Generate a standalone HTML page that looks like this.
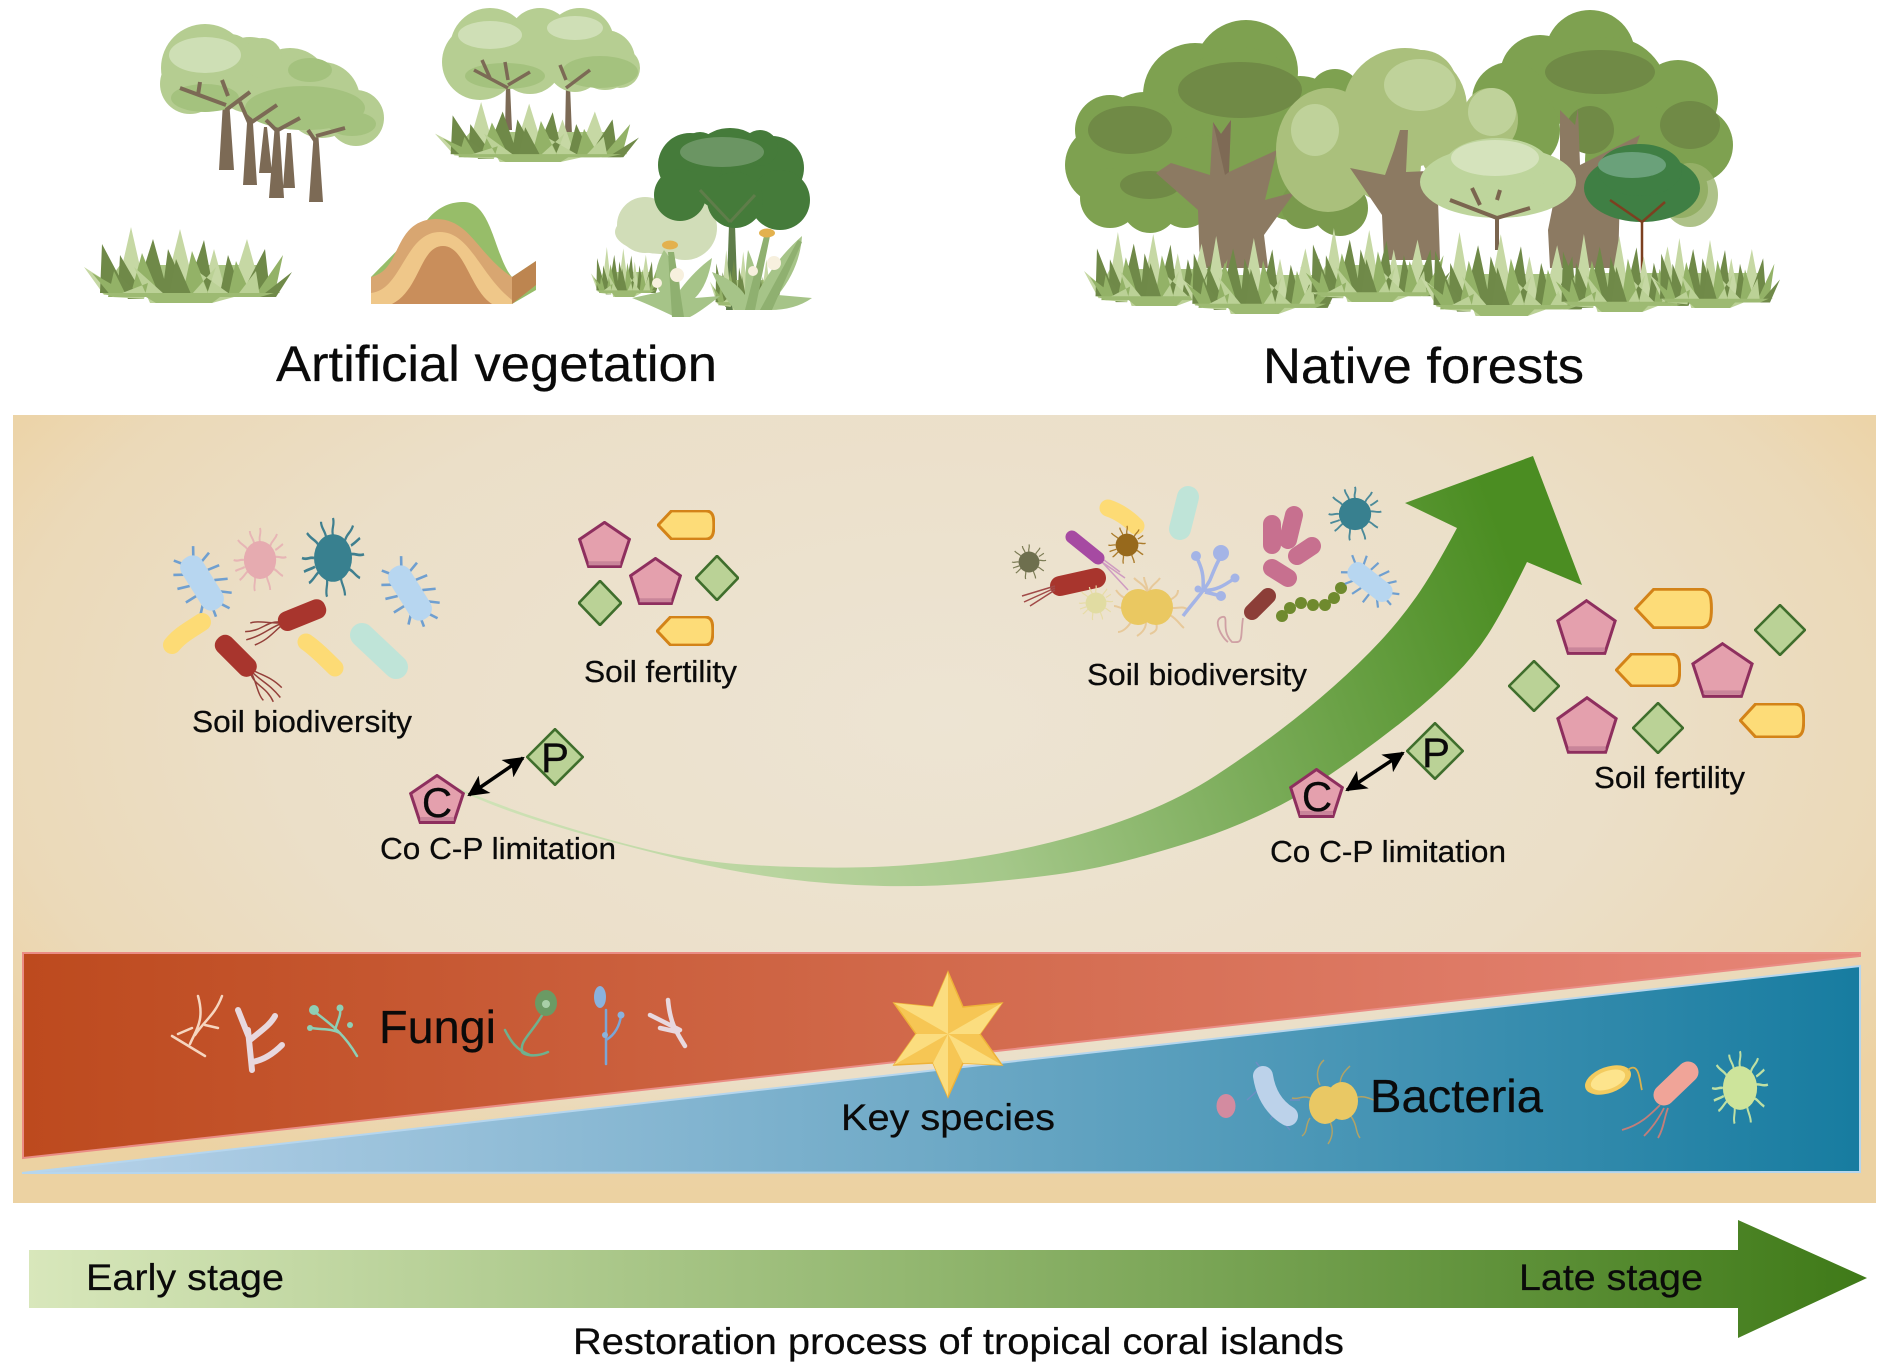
<!DOCTYPE html>
<html><head><meta charset="utf-8"><style>
html,body{margin:0;padding:0;background:#fff}
svg{display:block}
text{font-family:"Liberation Sans",sans-serif;fill:#0a0a0a;stroke:#0a0a0a;stroke-width:.25}
</style></head><body>
<svg xmlns="http://www.w3.org/2000/svg" width="1890" height="1370" viewBox="0 0 1890 1370">
<defs>
<radialGradient id="panel" gradientUnits="userSpaceOnUse" cx="945" cy="720" r="1120" gradientTransform="translate(945 720) scale(1 .55) translate(-945 -720)">
<stop offset="0" stop-color="#ede4d3"/><stop offset=".6" stop-color="#ebdfc8"/><stop offset=".85" stop-color="#ebd9b8"/><stop offset="1" stop-color="#edd2a2"/></radialGradient>
<linearGradient id="panelb" x1="0" y1="0" x2="0" y2="1"><stop offset="0" stop-color="#ecd2a2" stop-opacity="0"/><stop offset=".75" stop-color="#ecd2a2" stop-opacity=".95"/><stop offset="1" stop-color="#ecd2a2"/></linearGradient>
<linearGradient id="redg" gradientUnits="userSpaceOnUse" x1="23" y1="0" x2="1860" y2="0"><stop offset="0" stop-color="#bd4a1e"/><stop offset=".5" stop-color="#d26a4c"/><stop offset="1" stop-color="#e78679"/></linearGradient>
<linearGradient id="blueg" gradientUnits="userSpaceOnUse" x1="23" y1="0" x2="1860" y2="0"><stop offset="0" stop-color="#b9d3ea"/><stop offset=".5" stop-color="#6ea9c6"/><stop offset="1" stop-color="#177ca0"/></linearGradient>
<linearGradient id="stage" gradientUnits="userSpaceOnUse" x1="29" y1="0" x2="1867" y2="0"><stop offset="0" stop-color="#d8e7bb"/><stop offset=".5" stop-color="#90b56d"/><stop offset="1" stop-color="#3f7a18"/></linearGradient>
<linearGradient id="curve" gradientUnits="userSpaceOnUse" x1="500" y1="850" x2="1540" y2="480"><stop offset="0" stop-color="#cfe2b6"/><stop offset=".42" stop-color="#a5c88a"/><stop offset=".68" stop-color="#78aa56"/><stop offset=".95" stop-color="#4b8d22"/></linearGradient>

<symbol id="grass" viewBox="0 0 208 76" preserveAspectRatio="none">
<path fill="#a9c482" d="M16 66L36 38H176L196 66Z"/>
<path fill="#c6d8a4" d="M47 0L32 66L62 66ZM96 2L80 66L112 66ZM163 12L146 66L178 66ZM0 40L20 68L44 68ZM130 22L118 66L142 66Z"/>
<path fill="#6f8948" d="M18 17L16 66L44 66ZM36 28L34 66L58 66ZM69 12L52 66L84 66ZM120 13L102 66L130 66ZM181 22L158 66L186 66ZM144 28L136 66L158 66ZM84 22L78 68L104 68Z"/>
<path fill="#93b267" d="M58 26L46 70L76 70ZM108 24L98 70L126 70ZM199 28L170 70L190 70ZM152 34L144 70L168 70ZM8 46L28 70L50 70ZM30 44L24 70L46 70Z"/>
<path fill="#708a49" d="M208 45L176 70L192 70ZM30 44L44 72L60 72ZM92 32L84 74L110 74Z"/>
<path fill="#bbd196" d="M50 40L66 76L90 76ZM132 40L120 76L100 76ZM172 44L152 70L176 70ZM64 56L60 72L28 70ZM116 46L128 76L150 70Z"/>
<path fill="#9dba72" d="M18 66L190 66L176 70L136 70L128 76L72 76L62 70L30 70Z"/>
</symbol>

<symbol id="rodb" viewBox="-40 -30 80 60" overflow="visible">
<g stroke="#6f9fd0" stroke-width="2.6" fill="none"><path d="M-26 -6L-36 -12M-18 -10L-22 -22M-8 -12L-6 -24M4 -12L10 -24M16 -10L24 -20M26 -4L36 -10M-26 6L-34 12M-16 10L-22 20M-4 12L-8 24M8 12L8 24M18 10L26 18M26 4L36 6"/></g>
<rect x="-30" y="-12" width="60" height="24" rx="11" fill="#b7d6f0"/>
</symbol>
<symbol id="rodr" viewBox="-50 -15 90 30" overflow="visible">
<g stroke="#94403a" stroke-width="1.5" fill="none"><path d="M-10 -2C-22 -8-30 0-46 -6M-10 0C-24 0-30 4-48 2M-10 2C-22 6-28 10-42 10M-10 -1C-20 -4-30 -12-38 -12"/></g>
<rect x="-12" y="-10" width="50" height="20" rx="9" fill="#a8352d"/>
</symbol>
<symbol id="fuzz" viewBox="-34 -34 68 68" overflow="visible">
<g stroke="currentColor" stroke-width="2.2" fill="none"><path d="M0 -18C-2 -24 2 -26 0 -32M12 -14C14 -20 18 -20 20 -26M18 -3C22 -4 26 -1 31 -3M16 9C20 10 22 14 27 16M8 16C8 20 12 24 12 30M-6 17C-5 22-8 26-6 31M-14 11C-18 14-20 18-24 20M-19 0C-24 -1-26 2-31 0M-15 -11C-18 -15-22 -15-26 -20M-7 -17C-8 -22-12 -24-12 -29M18 -10C22 -12 24 -14 27 -16M-18 7C-22 9-25 9-29 11"/></g>
<circle r="19"/>
</symbol>
<symbol id="penta" viewBox="0 0 100 100" preserveAspectRatio="none">
<polygon points="50,3 97,39 80,97 20,97 3,39" fill="#e4a0ad" stroke="#8e2f5e" stroke-width="3" stroke-linejoin="miter" vector-effect="non-scaling-stroke"/>
<path d="M20 90L80 90" stroke="#c9859a" stroke-width="4" vector-effect="non-scaling-stroke"/>
</symbol>
<symbol id="hex" viewBox="0 0 100 100" preserveAspectRatio="none">
<path d="M2 50L25 3H84C97 3 98 25 98 50S97 97 84 97H25Z" fill="#fddc78" stroke="#d38318" stroke-width="3" vector-effect="non-scaling-stroke"/>
</symbol>
<symbol id="dia" viewBox="0 0 100 100" preserveAspectRatio="none">
<polygon points="50,2 98,50 50,98 2,50" fill="#bad296" stroke="#3f6e2c" stroke-width="2.6" vector-effect="non-scaling-stroke"/>
</symbol>
<marker id="ah" viewBox="0 0 10 10" refX="9" refY="5" markerWidth="6" markerHeight="6" orient="auto-start-reverse"><path d="M0 0L10 5L0 10L2.5 5Z" fill="#000"/></marker>
</defs>

<rect width="1890" height="1370" fill="#fff"/>

<!-- tree group 1 -->
<path d="M219 170L224 85L228 85L234 170Z M243 185L248 108L252 108L257 185Z M259 173L264 127L267 127L272 173Z M269 198L275 123L279 123L284 198Z M283 188L287 133L291 133L295 188Z M309 202L314 130L318 130L323 202Z" fill="#7c6a55"/>
<g fill="#b5cd91">
<circle cx="205" cy="68" r="44"/><circle cx="250" cy="75" r="38"/><circle cx="290" cy="88" r="40"/><circle cx="322" cy="100" r="38"/><circle cx="356" cy="118" r="28"/><circle cx="190" cy="84" r="30"/><circle cx="230" cy="58" r="24"/><circle cx="262" cy="58" r="20"/><circle cx="305" cy="82" r="26"/>
</g>
<g fill="#a4c27e"><ellipse cx="305" cy="108" rx="60" ry="22"/><ellipse cx="205" cy="98" rx="34" ry="14"/><ellipse cx="352" cy="124" rx="24" ry="12"/><ellipse cx="310" cy="70" rx="22" ry="12"/></g>
<ellipse cx="205" cy="55" rx="36" ry="18" fill="#cedfb5"/>
<g stroke="#7c6a55" stroke-width="4" fill="none"><path d="M226 105L180 88M226 110L250 92M198 95L200 82M228 96L222 80M250 125L240 102M252 122L277 105M276 130L266 120M278 130L300 118M316 142L308 130M316 136L345 128"/></g>

<!-- tree group 2 -->
<path d="M505 130L506 85L510 85L512 130ZM565 135L566 85L570 85L572 135Z" fill="#7c6a55"/>
<g fill="#b6ce92"><circle cx="490" cy="48" r="40"/><circle cx="540" cy="40" r="32"/><circle cx="580" cy="42" r="34"/><circle cx="605" cy="60" r="30"/><circle cx="480" cy="62" r="38"/><circle cx="530" cy="62" r="32"/><circle cx="575" cy="64" r="28"/><circle cx="620" cy="68" r="20"/></g>
<g fill="#cfdfb6"><ellipse cx="490" cy="35" rx="32" ry="14"/><ellipse cx="575" cy="28" rx="28" ry="12"/></g>
<g fill="#a4c27e"><ellipse cx="505" cy="76" rx="40" ry="13"/><ellipse cx="600" cy="72" rx="38" ry="16"/></g>
<path d="M508 88L474 70M508 85L530 72M490 78L482 60M508 80L505 62M566 88L590 70M566 80L560 65" stroke="#7c6a55" stroke-width="3.5" fill="none"/>
<use href="#grass" x="435" y="102" width="204" height="60"/>
<!-- grass left -->
<use href="#grass" x="84" y="227" width="208" height="76"/>

<!-- hill -->
<path d="M427 220C440 205 452 202 464 202C492 202 495 258 512 277L536 261V290L512 304H371V277Z" fill="#97bd69"/>
<path d="M371 277C403 270 392 220 436 219C470 219 478 255 512 277V304H371Z" fill="#d8a671"/>
<path d="M371 304V293C402 290 405 232 440 232C470 232 480 275 512 300V304Z" fill="#efc789"/>
<path d="M392 304C420 290 420 246 443 246C465 246 470 290 492 304Z" fill="#c98e5b"/>
<path d="M512 277L536 261V285L512 304Z" fill="#bd8550"/>

<!-- dandelion group -->
<g fill="#d1ddb8"><circle cx="645" cy="225" r="28"/><circle cx="685" cy="228" r="32"/><ellipse cx="665" cy="232" rx="50" ry="22"/></g>
<path d="M726 310L729 225H735L738 310Z" fill="#5f7d4a"/>
<g fill="#457b3a"><circle cx="730" cy="170" r="42"/><circle cx="690" cy="165" r="32"/><circle cx="772" cy="168" r="32"/><circle cx="680" cy="195" r="26"/><circle cx="780" cy="200" r="30"/><circle cx="735" cy="200" r="28"/><circle cx="700" cy="150" r="18"/><circle cx="760" cy="148" r="18"/></g>
<ellipse cx="722" cy="152" rx="42" ry="15" fill="#6b9563"/>
<path d="M730 222L700 190M730 222L755 195" stroke="#5f7d4a" stroke-width="3" fill="none"/>
<use href="#grass" x="591" y="247" width="70" height="50"/>
<use href="#grass" x="710" y="250" width="72" height="60"/>
<g fill="#a6c488">
<path d="M675 317Q650 305 632 298L660 292Q650 275 664 250Q680 270 680 290Q695 270 712 258Q708 285 695 298L720 296Q700 312 690 317Z"/>
<path d="M735 310Q722 295 712 272Q735 280 745 295Q745 270 748 250Q758 272 758 292Q775 260 802 236Q800 268 778 295L812 298Q795 310 770 310Z"/>
</g>
<g fill="#8fb070"><path d="M672 317L668 252L674 252L684 317ZM745 310L764 236L770 236L755 310ZM760 310L798 240L802 242L772 310Z"/></g>
<g fill="#e3b14e"><ellipse cx="670" cy="245" rx="8" ry="4.5"/><ellipse cx="767" cy="233" rx="8" ry="4.5"/></g>
<g fill="#f7f0de"><circle cx="677" cy="275" r="7"/><circle cx="774" cy="263" r="7"/><circle cx="657" cy="283" r="5"/><circle cx="753" cy="271" r="5"/></g>

<!-- native trees -->
<g fill="#7ea150">
<circle cx="1246" cy="72" r="52"/><circle cx="1195" cy="95" r="52"/><circle cx="1240" cy="115" r="68"/><circle cx="1145" cy="140" r="48"/><circle cx="1110" cy="130" r="35"/><circle cx="1105" cy="165" r="40"/><circle cx="1110" cy="198" r="30"/><circle cx="1150" cy="205" r="28"/><circle cx="1185" cy="200" r="28"/><circle cx="1300" cy="120" r="44"/><circle cx="1335" cy="95" r="26"/><circle cx="1200" cy="175" r="40"/><circle cx="1290" cy="190" r="30"/>
</g>
<g fill="#708a46"><ellipse cx="1240" cy="90" rx="62" ry="28"/><ellipse cx="1130" cy="130" rx="42" ry="24"/><ellipse cx="1150" cy="185" rx="30" ry="14"/></g>
<circle cx="1340" cy="208" r="28" fill="#7a9a4d"/>
<circle cx="1305" cy="205" r="24" fill="#7a9a4d"/>
<g fill="#7ea150">
<circle cx="1590" cy="55" r="45"/><circle cx="1540" cy="75" r="40"/><circle cx="1610" cy="95" r="58"/><circle cx="1678" cy="100" r="40"/><circle cx="1695" cy="145" r="38"/><circle cx="1640" cy="160" r="55"/><circle cx="1510" cy="100" r="38"/><circle cx="1520" cy="130" r="40"/><circle cx="1680" cy="190" r="28"/>
</g>
<g fill="#708a46"><ellipse cx="1600" cy="72" rx="55" ry="22"/><ellipse cx="1690" cy="125" rx="30" ry="24"/><circle cx="1590" cy="130" r="24"/></g>
<path d="M1213 122L1221 134L1231 120L1229 172L1277 150L1265 200L1295 192L1264 235L1268 268H1200L1198 210L1156 173L1171 163L1210 175Z" fill="#8c7a62"/>
<path d="M1213 122L1221 134L1231 120L1229 172L1225 175Z" fill="#7e6a55"/>
<g fill="#aac07c">
<ellipse cx="1405" cy="108" rx="62" ry="60"/><ellipse cx="1328" cy="150" rx="52" ry="62"/><circle cx="1421" cy="86" r="36"/><ellipse cx="1490" cy="120" rx="28" ry="32"/><circle cx="1455" cy="150" r="35"/><circle cx="1385" cy="165" r="36"/>
</g>
<g fill="#bfd29a"><ellipse cx="1420" cy="85" rx="36" ry="26"/><ellipse cx="1315" cy="130" rx="24" ry="26"/><ellipse cx="1492" cy="112" rx="24" ry="24"/></g>
<path d="M1394 150L1400 130H1408L1406 172L1450 170L1438 200L1440 260H1384L1382 215L1350 168L1385 175Z" fill="#8c7a62"/>
<path d="M1560 110L1575 125L1578 108L1580 165L1640 135L1620 190L1618 268H1550L1548 230L1560 170Z" fill="#8c7a62"/>
<g fill="#bed59c"><ellipse cx="1498" cy="182" rx="78" ry="36"/><ellipse cx="1497" cy="168" rx="54" ry="30"/></g>
<ellipse cx="1495" cy="158" rx="44" ry="18" fill="#d5e3bc"/>
<path d="M1497 250V218M1497 218L1450 200M1497 218L1530 208M1480 205L1472 188M1497 200L1500 190" stroke="#7b654f" stroke-width="4" fill="none"/>
<ellipse cx="1690" cy="195" rx="28" ry="32" fill="#9ab36c" opacity=".8"/>
<g fill="#3f7f44"><ellipse cx="1642" cy="188" rx="58" ry="34"/><ellipse cx="1640" cy="170" rx="42" ry="26"/></g>
<ellipse cx="1632" cy="165" rx="34" ry="13" fill="#6aa17a"/>
<path d="M1642 275V222M1642 222L1610 200M1642 222L1665 202" stroke="#7c4020" stroke-width="2.5" fill="none"/>
<!-- forest grass -->
<use href="#grass" x="1084" y="232" width="150" height="74"/>
<use href="#grass" x="1180" y="236" width="160" height="78"/>
<use href="#grass" x="1300" y="228" width="150" height="74"/>
<use href="#grass" x="1420" y="232" width="175" height="84"/>
<use href="#grass" x="1550" y="234" width="150" height="78"/>
<use href="#grass" x="1650" y="238" width="130" height="70"/>

<!-- panel -->
<rect x="13" y="415" width="1863" height="788" fill="url(#panel)"/>
<rect x="13" y="1080" width="1863" height="123" fill="url(#panelb)"/>

<!-- curve arrow -->
<path d="M425 773Q482 800 541 819Q600 838 650 850Q700 862 750 865Q800 868 850 867.5Q900 867 950 861Q1000 855 1050 842.5Q1100 830 1141.5 813.5Q1183 797 1216.5 775Q1250 753 1278.5 731.5Q1307 710 1333.5 686.5Q1360 663 1380 641.5Q1400 620 1416.5 596.5Q1433 573 1457 528L1405 503L1533 456L1582 585L1527 562Q1507 603 1492 628Q1477 653 1455 675Q1433 697 1408 717Q1383 737 1358 755Q1333 773 1310 788Q1287 803 1257 816.5Q1227 830 1200 839Q1173 848 1136.5 858Q1100 868 1066.5 873Q1033 878 983 882.5Q933 887 883 886Q833 885 783 878.5Q733 872 683 860Q633 848 586 835Q540 822 505 809.5Q470 797 425 773Z" fill="url(#curve)"/>

<!-- bottom bands -->
<polygon points="23,953 1860,953 1860,956 23,1158" fill="url(#redg)" stroke="#ea8c85" stroke-width="2"/>
<polygon points="22,1173 1860,966 1860,1172" fill="url(#blueg)" stroke="#b6d6ee" stroke-width="2"/>

<!-- star -->
<polygon points="948,972 963,1007 1002,1003 980,1034 1002,1065 963,1063 948,1097 933,1063 894,1065 916,1034 894,1003 933,1007" fill="#f6c654" stroke="#eeb238" stroke-width="1.5"/>
<path d="M948 972V1034L933 1007ZM1002 1003L948 1034L980 1034ZM1002 1065L948 1034L963 1063ZM948 1097V1034L933 1063ZM894 1065L948 1034L916 1034ZM894 1003L948 1034L933 1007Z" fill="#fbdd7f"/>

<!-- stage arrow -->
<polygon points="29,1250 1738,1250 1738,1220 1867,1278 1738,1338 1738,1308 29,1308" fill="url(#stage)"/>

<!-- left bacteria -->
<g transform="translate(202 583) rotate(58)"><use href="#rodb" x="-40" y="-30" width="80" height="60"/></g>
<g transform="translate(410 593) rotate(58)"><use href="#rodb" x="-40" y="-30" width="80" height="60"/></g>
<g transform="translate(260 560) scale(.85 1)" style="color:#e7b5b5" fill="#e6abb0"><use href="#fuzz" x="-34" y="-34" width="68" height="68"/></g>
<g transform="translate(333 558) scale(1 1.25)" style="color:#3f7f8f" fill="#38808f"><use href="#fuzz" x="-34" y="-34" width="68" height="68"/></g>
<g transform="translate(290 620) rotate(-22)"><use href="#rodr" x="-50" y="-15" width="90" height="30"/></g>
<g transform="translate(245 665) rotate(225)"><use href="#rodr" x="-50" y="-15" width="90" height="30"/></g>
<path d="M172 645C180 635 190 630 202 622" stroke="#fddb75" stroke-width="18" stroke-linecap="round" fill="none"/>
<path d="M306 642C315 648 325 658 335 668" stroke="#fddb75" stroke-width="17" stroke-linecap="round" fill="none"/>
<path d="M362 635L396 667" stroke="#bfe4d8" stroke-width="24" stroke-linecap="round" fill="none"/>

<!-- left fertility -->
<use href="#penta" x="578" y="521" width="53" height="47"/>
<use href="#penta" x="629" y="557" width="53" height="48"/>
<use href="#hex" x="657" y="510" width="58" height="30"/>
<use href="#hex" x="656" y="616" width="58" height="30"/>
<use href="#dia" x="695" y="555" width="44" height="46"/>
<use href="#dia" x="578" y="580" width="44" height="46"/>

<!-- right bacteria -->
<g style="color:#7c7c55" fill="#6e6f4e" transform="translate(1029 562) scale(.55)"><use href="#fuzz" x="-34" y="-34" width="68" height="68"/></g>
<path d="M1108 508C1120 512 1130 520 1136 526" stroke="#fddb75" stroke-width="17" stroke-linecap="round" fill="none"/>
<path d="M1188 497L1180 529" stroke="#bfe4d8" stroke-width="22" stroke-linecap="round" fill="none"/>
<path d="M1102 562L1125 578M1102 562L1128 590M1104 560L1120 572" stroke="#cf9bc1" stroke-width="1.5" fill="none"/>
<path d="M1072 537L1098 558" stroke="#a64aa2" stroke-width="13" stroke-linecap="round" fill="none"/>
<g style="color:#ab7b2a" fill="#97691c" transform="translate(1127 545) scale(.6)"><use href="#fuzz" x="-34" y="-34" width="68" height="68"/></g>
<path d="M1060 586L1096 578" stroke="#a8352d" stroke-width="20" stroke-linecap="round" fill="none"/>
<path d="M1055 586L1022 596M1055 588L1024 602M1055 590L1030 606" stroke="#a14a48" stroke-width="1.5" fill="none"/>
<g style="color:#e7dca6" fill="#e1dca2" transform="translate(1096 603) scale(.55)"><use href="#fuzz" x="-34" y="-34" width="68" height="68"/></g>
<g stroke="#e7c99a" stroke-width="2" fill="none"><path d="M1148 595C1146 585 1140 584 1134 578M1148 595C1148 585 1144 582 1144 577M1148 595C1150 585 1156 584 1160 578M1170 600C1175 597 1178 595 1178 590M1172 608C1180 608 1184 606 1188 610M1170 615C1178 620 1180 625 1184 628M1156 620C1156 626 1160 630 1150 634M1146 622C1146 630 1140 634 1137 636M1132 620C1128 628 1122 632 1118 632M1130 608C1122 610 1118 606 1114 606M1130 600C1124 598 1120 596 1116 590"/></g>
<g fill="#eac861"><ellipse cx="1138" cy="607" rx="17" ry="18"/><ellipse cx="1156" cy="607" rx="17" ry="18"/></g>
<path d="M1183 616C1195 600 1205 590 1210 580C1214 570 1218 560 1222 555M1203 590C1204 575 1202 568 1196 556M1200 590C1215 592 1225 585 1235 578M1205 592L1221 596" stroke="#a4b4e6" stroke-width="3.5" fill="none"/>
<g fill="#a4b4e6"><circle cx="1221" cy="553" r="8"/><circle cx="1196" cy="556" r="5"/><circle cx="1235" cy="578" r="4.5"/><circle cx="1221" cy="596" r="5"/><circle cx="1198" cy="589" r="3.5"/></g>
<g stroke="#c7708f" stroke-width="18" stroke-linecap="round" fill="none"><path d="M1272 524L1272 545M1294 515L1288 540M1297 556L1312 546M1272 568L1288 578"/></g>
<path d="M1243 618C1240 640 1244 643 1232 642C1220 630 1230 615 1222 617C1212 620 1222 638 1228 642" stroke="#cfa0a4" stroke-width="1.8" fill="none"/>
<path d="M1252 612L1268 596" stroke="#8c3e38" stroke-width="16" stroke-linecap="round" fill="none"/>
<g fill="#6f8a2e"><circle cx="1282" cy="616" r="6"/><circle cx="1290" cy="608" r="6"/><circle cx="1301" cy="603" r="6"/><circle cx="1313" cy="605" r="6"/><circle cx="1325" cy="605" r="6"/><circle cx="1334" cy="598" r="6"/><circle cx="1341" cy="588" r="6"/></g>
<g transform="translate(1370 582) rotate(38) scale(.85)"><use href="#rodb" x="-40" y="-30" width="80" height="60"/></g>
<g style="color:#4b8a99" fill="#38808f" transform="translate(1355 514) scale(.85)"><use href="#fuzz" x="-34" y="-34" width="68" height="68"/></g>

<!-- right fertility -->
<use href="#penta" x="1556" y="599" width="61" height="56"/>
<use href="#penta" x="1691" y="642" width="63" height="56"/>
<use href="#penta" x="1556" y="696" width="62" height="58"/>
<use href="#hex" x="1634" y="588" width="79" height="41"/>
<use href="#hex" x="1615" y="653" width="66" height="34"/>
<use href="#hex" x="1739" y="703" width="66" height="35"/>
<use href="#dia" x="1754" y="604" width="52" height="52"/>
<use href="#dia" x="1508" y="660" width="52" height="52"/>
<use href="#dia" x="1632" y="702" width="52" height="52"/>

<!-- CP left -->
<use href="#penta" x="409" y="774" width="56" height="50"/>
<use href="#dia" x="526" y="728" width="58" height="58"/>
<line x1="523" y1="758" x2="469" y2="795" stroke="#000" stroke-width="3.5" marker-start="url(#ah)" marker-end="url(#ah)"/>
<!-- CP right -->
<use href="#penta" x="1289" y="768" width="55" height="50"/>
<use href="#dia" x="1406" y="722" width="58" height="58"/>
<line x1="1403" y1="753" x2="1347" y2="790" stroke="#000" stroke-width="3.5" marker-start="url(#ah)" marker-end="url(#ah)"/>

<!-- fungi icons -->
<g fill="none" stroke-linecap="round">
<path d="M205 1056L172 1036M190 1044C196 1030 205 1020 198 996M195 1035C205 1020 215 1015 222 996M178 1034L192 1028M205 1025L218 1028" stroke="#f6d6c0" stroke-width="2.5"/>
<path d="M252 1070L248 1030M250 1040L238 1010M250 1040C262 1030 270 1025 275 1016M252 1062C265 1060 275 1052 282 1045" stroke="#e8d8de" stroke-width="6"/>
<path d="M357 1056C345 1035 332 1025 315 1012M335 1030C338 1020 341 1015 340 1010M340 1033C330 1028 322 1030 312 1028" stroke="#8ecfb5" stroke-width="2.5"/>
<circle cx="314" cy="1010" r="5" fill="#8ecfb5"/><circle cx="340" cy="1008" r="3.5" fill="#8ecfb5"/><circle cx="350" cy="1025" r="3" fill="#8ecfb5"/><circle cx="310" cy="1028" r="3" fill="#8ecfb5"/>
<path d="M545 1010C535 1030 520 1040 522 1050C520 1055 535 1058 548 1052M505 1030C510 1040 516 1050 530 1055" stroke="#6fb18e" stroke-width="2.5"/>
<ellipse cx="546" cy="1003" rx="11" ry="13" fill="#6b9a64"/><circle cx="546" cy="1004" r="4" fill="#a8cfa7"/>
<path d="M606 1064L606 1010M606 1040C615 1035 620 1025 621 1015" stroke="#7ba6d6" stroke-width="2.5"/>
<ellipse cx="600" cy="997" rx="6" ry="11" fill="#8ab2dd"/><circle cx="605" cy="1035" r="3" fill="#8ab2dd"/><circle cx="621" cy="1015" r="3.5" fill="#8ab2dd"/>
<path d="M685 1046C675 1030 670 1022 668 1000M680 1030L650 1015M678 1032L660 1028" stroke="#e8d8de" stroke-width="4.5"/>
</g>

<!-- bacteria row -->
<ellipse cx="1226" cy="1106" rx="9.5" ry="12" fill="#d38ba0"/>
<g stroke="#6d8ec4" stroke-width="1.5"><path d="M1262 1070L1256 1062M1290 1100L1300 1100M1280 1118L1290 1130M1258 1090L1247 1100M1275 1112L1270 1120"/></g>
<path d="M1263 1076C1266 1095 1275 1108 1288 1116" stroke="#bcd2ea" stroke-width="20" stroke-linecap="round" fill="none"/>
<g stroke="#b1a366" stroke-width="1.5" fill="none"><path d="M1320 1085C1315 1075 1318 1065 1324 1060M1340 1085C1340 1075 1346 1070 1350 1066M1355 1098C1362 1095 1368 1098 1374 1100M1350 1115C1358 1125 1355 1132 1360 1138M1330 1122C1334 1130 1332 1138 1328 1144M1310 1118C1305 1125 1308 1132 1302 1136M1310 1098C1302 1095 1298 1100 1292 1098"/></g>
<g fill="#e9c864"><ellipse cx="1325" cy="1105" rx="16" ry="19"/><ellipse cx="1342" cy="1101" rx="16" ry="19"/></g>
<g transform="translate(1608 1080) rotate(-20)"><ellipse rx="24" ry="13" fill="#f3cb5f"/><ellipse rx="18" ry="9" fill="#fde48c"/></g>
<path d="M1628 1070C1640 1060 1640 1085 1642 1090" stroke="#d9b14e" stroke-width="1.8" fill="none"/>
<path d="M1664 1095L1688 1072" stroke="#f0a498" stroke-width="21" stroke-linecap="round" fill="none"/>
<path d="M1660 1105C1650 1115 1640 1125 1622 1130M1664 1108C1658 1120 1650 1130 1644 1136M1668 1108C1664 1118 1664 1128 1658 1138" stroke="#c37e7a" stroke-width="1.8" fill="none"/>
<g transform="translate(1740 1088) scale(.9 1.15)" style="color:#bfe0a3" fill="#cde49b"><use href="#fuzz" x="-34" y="-34" width="68" height="68"/></g>

<!-- labels -->
<g font-size="50">
<text x="276" y="381" textLength="441" lengthAdjust="spacingAndGlyphs">Artificial vegetation</text>
<text x="1263" y="383" textLength="321" lengthAdjust="spacingAndGlyphs">Native forests</text>
</g>
<g font-size="31">
<text x="192" y="732" textLength="220" lengthAdjust="spacingAndGlyphs">Soil biodiversity</text>
<text x="584" y="682" textLength="153" lengthAdjust="spacingAndGlyphs">Soil fertility</text>
<text x="380" y="859" textLength="236" lengthAdjust="spacingAndGlyphs">Co C-P limitation</text>
<text x="1087" y="685" textLength="220" lengthAdjust="spacingAndGlyphs">Soil biodiversity</text>
<text x="1594" y="788" textLength="151" lengthAdjust="spacingAndGlyphs">Soil fertility</text>
<text x="1270" y="862" textLength="236" lengthAdjust="spacingAndGlyphs">Co C-P limitation</text>
</g>
<g font-size="42" text-anchor="middle">
<text x="437" y="817">C</text>
<text x="1317" y="811">C</text>
<text x="555" y="772">P</text>
<text x="1436" y="767">P</text>
</g>
<text x="379" y="1043" font-size="46" textLength="117" lengthAdjust="spacingAndGlyphs">Fungi</text>
<text x="1370" y="1112" font-size="46" textLength="173" lengthAdjust="spacingAndGlyphs">Bacteria</text>
<g font-size="37.5">
<text x="841" y="1130" textLength="214" lengthAdjust="spacingAndGlyphs">Key species</text>
<text x="86" y="1290" textLength="198" lengthAdjust="spacingAndGlyphs">Early stage</text>
<text x="1519" y="1290" textLength="184" lengthAdjust="spacingAndGlyphs">Late stage</text>
<text x="573" y="1354" textLength="771" lengthAdjust="spacingAndGlyphs">Restoration process of tropical coral islands</text>
</g>
</svg>
</body></html>
